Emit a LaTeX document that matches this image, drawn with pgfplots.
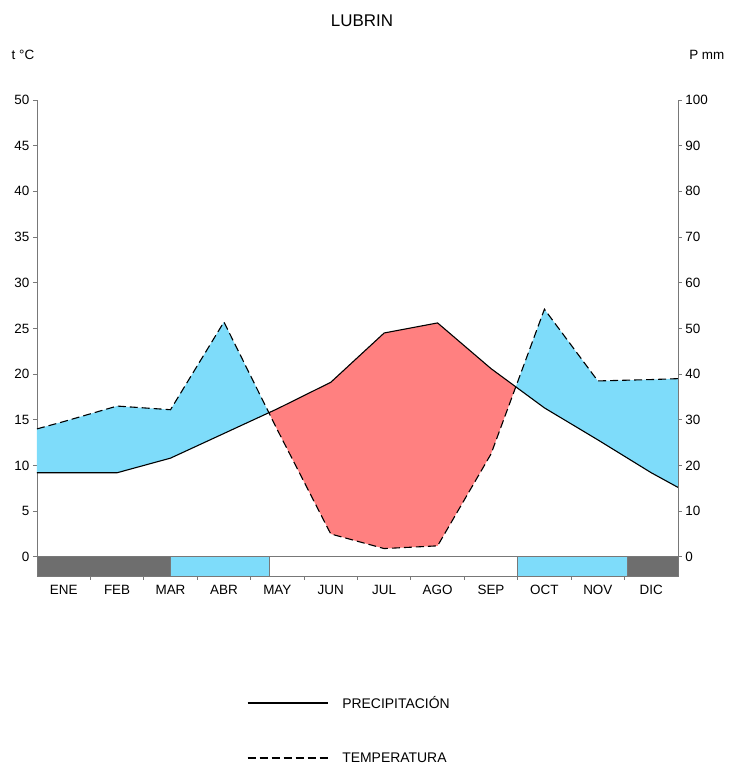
\documentclass[border=0pt]{standalone}
\usepackage{fontspec}
\setmainfont{Liberation Sans}
\usepackage{pgfplots}
\usepgfplotslibrary{fillbetween}
\usepackage{pgfplotstable}
\pgfplotsset{compat=1.18}
\definecolor{hum}{RGB}{126,220,250}
\definecolor{arid}{RGB}{255,128,128}
\definecolor{barg}{RGB}{110,110,110}
\definecolor{axg}{RGB}{120,120,120}
\pgfplotstableread{
x T
0.5 9.2
1 9.2
2 9.2
3 10.8
4 13.5
5 16.2
6 19.1
7 24.5
8 25.6
9 20.6
10 16.3
11 12.8
12 9.2
12.5 7.6
}\Tdata
\pgfplotstableread{
x P
0.5 28
1 29.6
2 33
3 32.2
4 51.4
5 27.8
6 5
7 1.8
8 2.4
9 22.5
10 54.2
11 38.5
12 38.8
12.5 39
}\Pdata
\newcommand{\fs}{\fontsize{13.5}{16}\selectfont}
\newcommand{\fl}{\fontsize{14}{16}\selectfont}
\begin{document}
\begin{tikzpicture}
\pgfplotsset{
  every axis/.append style={
    scale only axis, width=641bp, height=476bp,
    xmin=0.5, xmax=12.5, clip=false,
    /pgf/number format/assume math mode=true,
    tick label style={font=\fs},
    tick align=outside, major tick length=4bp,
    tick style={draw=axg, line width=0.8bp},
    axis line style={draw=axg, line width=0.8bp},
    x axis line style={-}, y axis line style={-},
    legend image code/.code={\draw[#1] (0bp,0bp) -- (80bp,0bp);},
  }
}
\begin{axis}[
  ymin=-2.1, ymax=50,
  axis y line*=left, axis x line*=bottom,
  ytick={0,5,...,50},
  xtick={1.5,2.5,...,11.5}, xticklabels={},
  extra x ticks={1,2,...,12},
  extra x tick labels={ENE,FEB,MAR,ABR,MAY,JUN,JUL,AGO,SEP,OCT,NOV,DIC},
  extra x tick style={major tick length=0pt, xticklabel style={yshift=-6bp}},
  title={LUBRIN}, title style={font=\fontsize{17}{20}\selectfont, at={(axis description cs:0.507,1.153)}, anchor=center},
  legend style={draw=none, fill=none, inner sep=0pt, at={(axis description cs:0.3276,-0.2668)}, anchor=west, font=\fl, /tikz/every odd column/.append style={column sep=12bp}},
]
\addplot[name path=T, draw=black, line width=1.1bp, forget plot] table[x=x,y=T] {\Tdata};
\addplot[name path=P, draw=black, line width=1.1bp, dash pattern=on 8bp off 4bp, forget plot] table[x=x, y expr=\thisrow{P}/2] {\Pdata};
\addplot[forget plot] fill between[of=T and P, split,
  every segment no 0/.style={fill=hum},
  every segment no 1/.style={fill=arid},
  every segment no 2/.style={fill=hum}];
\addplot[fill=barg, draw=axg, line width=0.8bp, forget plot] coordinates {(0.5,0) (3,0) (3,-2.1) (0.5,-2.1)} -- cycle;
\addplot[fill=hum, draw=axg, line width=0.8bp, forget plot] coordinates {(3,0) (4.86,0) (4.86,-2.1) (3,-2.1)} -- cycle;
\addplot[fill=white, draw=axg, line width=0.8bp, forget plot] coordinates {(4.86,0) (9.49,0) (9.49,-2.1) (4.86,-2.1)} -- cycle;
\addplot[fill=hum, draw=axg, line width=0.8bp, forget plot] coordinates {(9.49,0) (11.56,0) (11.56,-2.1) (9.49,-2.1)} -- cycle;
\addplot[fill=barg, draw=axg, line width=0.8bp, forget plot] coordinates {(11.56,0) (12.5,0) (12.5,-2.1) (11.56,-2.1)} -- cycle;
\addlegendimage{black, line width=1.1bp}
\addlegendentry{PRECIPITACIÓN}
\node[font=\fs, anchor=west] at (rel axis cs:-0.045,1.0945) {t °C};
\coordinate (bl) at (rel axis cs:-0.0577,-0.3992);
\coordinate (tr) at (rel axis cs:1.0827,1.2101);
\end{axis}
\begin{axis}[
  ymin=-4.2, ymax=100,
  axis y line*=right, axis x line=none,
  ytick={0,10,...,100},
  legend style={draw=none, fill=none, inner sep=0pt, at={(axis description cs:0.3276,-0.3824)}, anchor=west, font=\fl, /tikz/every odd column/.append style={column sep=12bp}},
]
\addlegendimage{black, line width=1.1bp, dash pattern=on 8bp off 4bp}
\addlegendentry{TEMPERATURA}
\node[font=\fs, anchor=center] at (rel axis cs:1.045,1.0945) {P mm};
\end{axis}
\pgfresetboundingbox
\path[use as bounding box] (bl) rectangle (tr);
\end{tikzpicture}
\end{document}
